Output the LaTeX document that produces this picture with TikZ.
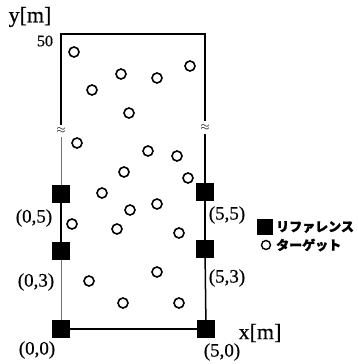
\documentclass[tikz,border=0pt]{standalone}
\usepackage{fontspec}
\setmainfont[FakeBold=0.5]{Liberation Serif}
\newfontfamily\jpfont[BoldFeatures={FakeBold=1.5}]{Noto Sans CJK JP}
\begin{document}
\begin{tikzpicture}[x=1pt,y=-1pt,
  ref/.style={fill=black,minimum size=18pt,inner sep=0pt},
  tgt/.style={circle,draw,line width=1.6pt,minimum size=10pt,inner sep=0pt},
  edge/.style={line width=1.5pt},
  faint/.style={line width=1pt,black!55},
  lbl/.style={font=\fontsize{19}{19}\selectfont,inner sep=0pt},
  axis/.style={font=\fontsize{22}{22}\selectfont,inner sep=0pt},
  brk/.style={font=\fontsize{12}{12}\selectfont,inner sep=0pt},
  leg/.style={font=\jpfont\bfseries\fontsize{13}{13}\selectfont,inner sep=0pt,anchor=west},
]
\useasboundingbox (0,0) rectangle (357,364);
% corners and break points
\coordinate (tl) at (61,34);
\coordinate (tr) at (205,34);
\coordinate (lb1) at (61,125);
\coordinate (lb2) at (61,137);
\coordinate (rb1) at (205,121);
\coordinate (rb2) at (205,134);
% reference squares
\node[ref] (r00) at (61,329) {};
\node[ref] (r03) at (61,251) {};
\node[ref] (r05) at (61,194) {};
\node[ref] (r50) at (206,329) {};
\node[ref] (r53) at (205,249) {};
\node[ref] (r55) at (205,192) {};
% break marks
\node[brk] (lw) at (61,131) {$\approx$};
\node[brk] (rw) at (205,128) {$\approx$};
% frame
\draw[edge] (lb1) -- (tl) -- (tr) -- (rb1);
\draw[faint] (lb2) -- (r05);
\draw[edge] (r05) -- (r03);
\draw[faint] (r03) -- (r00);
\draw[edge] (r00) -- (r50);
\draw[edge] (rb2) -- (r55);
\draw[edge] (r55) -- (r53);
\draw[edge] (r53) -- (r50);
% targets
\foreach \i/\x/\y in {1/74/52, 2/92/90, 3/121/74, 4/157/78, 5/190/66, 6/129/113,
  7/77/143, 8/148/151, 9/177/156, 10/124/172, 11/188/178, 12/102/193,
  13/157/204, 14/130/210, 15/72/224, 16/117/229, 17/179/233,
  18/157/272, 19/89/281, 20/123/303, 21/179/303}
  \node[tgt] (t\i) at (\x,\y) {};
% labels
\node[axis] (ylab) at (30,17) {y[m]};
\node[font=\fontsize{16}{16}\selectfont,inner sep=0pt] (l50) at (45,41) {50};
\node[lbl] (l05) at (34,218) {(0,5)};
\node[lbl] (l03) at (36,282) {(0,3)};
\node[lbl] (l00) at (37,350) {(0,0)};
\node[lbl] (l55) at (227,215) {(5,5)};
\node[lbl] (l53) at (227,278) {(5,3)};
\node[lbl] (l50b) at (222,352) {(5,0)};
\node[axis] (xlab) at (260,333) {x[m]};
% legend
\node[fill=black,minimum size=16pt,inner sep=0pt] (legsq) at (265,227) {};
\node[leg] (legref) at (276,227) {リファレンス};
\node[tgt,minimum size=9pt,line width=1.4pt] (legc) at (266,245) {};
\node[leg] (legtgt) at (276,245) {ターゲット};
\end{tikzpicture}
\end{document}
